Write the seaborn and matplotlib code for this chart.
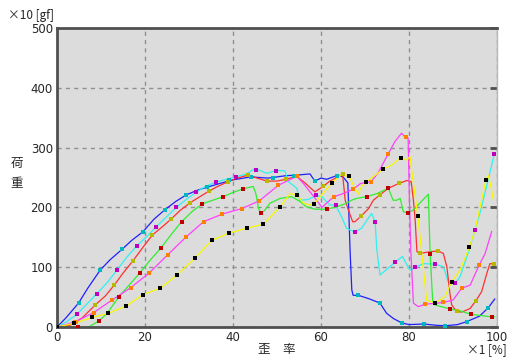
import matplotlib
matplotlib.use("Agg")
import matplotlib.pyplot as plt
import seaborn as sns

# ---- data (strain %, load x10 gf) ----
blue_x = [0, 2, 4.9, 7, 9.8, 12, 14.8, 17, 19.5, 22, 24.5, 27, 29.4, 32, 34.2, 37, 40, 44, 48, 52, 54.5,
          57.5, 58.6, 60, 61.3, 63.9, 65, 66.1, 66.6, 67, 67.3, 68.5, 71, 73.4, 74.9, 76.5, 78.3, 80, 83.3,
          86, 88.2, 91, 93.1, 96, 98, 99.5]
blue_y = [0, 15, 40, 65, 95, 112, 130, 145, 159, 180, 196, 210, 221, 229, 234, 240, 246, 251, 249, 253, 254,
          256, 244, 249, 247, 254, 251, 241, 129, 62, 53, 53, 47, 40, 23, 14, 7, 4, 5, 3, 2, 4, 9, 18, 32, 47]
blue_mx = [4.9, 9.8, 14.8, 19.5, 24.5, 29.4, 34.2, 39.2, 44.1, 49, 53.9, 58.6, 63.6, 68.5, 73.4, 78.3, 83.3,
           88.2, 93.1, 98]
blue_my = [40, 95, 130, 159, 196, 221, 234, 245, 251, 250, 253, 244, 253, 53, 40, 7, 5, 2, 9, 32]

cyan_x = [0, 2, 4.5, 7, 9.1, 11.5, 13.6, 16, 18.2, 20.5, 22.6, 25, 27.1, 29.5, 31.7, 34, 36.1, 38.5, 40.7,
          43, 45, 47.7, 49.9, 51.8, 52.6, 54.5, 55.2, 57, 58.9, 60.2, 62, 63.3, 64.7, 65.8, 67.7, 69.2, 71.5,
          72.3, 72.7, 73.4, 75.7, 77, 78.5, 80.2, 81.4, 83.3, 85.9, 87.8, 88.9, 90.5, 91.6, 93.9, 95, 96.1,
          98, 99.4]
cyan_y = [0, 8, 21, 40, 56, 75, 95, 118, 136, 152, 168, 185, 200, 214, 226, 236, 242, 247, 251, 256, 265,
          257, 262, 261, 243, 232, 212, 213, 220, 218, 204, 204, 184, 165, 159, 165, 190, 176, 129, 87, 101,
          109, 118, 95, 100, 106, 105, 101, 76, 73, 84, 134, 163, 190, 246, 290]
cyan_mx = [4.5, 9.1, 13.6, 18.2, 22.6, 27.1, 31.7, 36.1, 40.7, 45.2, 49.8, 58.9, 63.3, 67.7, 72.3, 76.8,
           81.4, 85.9, 90.5, 95, 99.4]
cyan_my = [21, 56, 95, 136, 168, 200, 226, 242, 251, 262, 261, 220, 204, 159, 176, 109, 100, 105, 73, 163, 290]

red_x = [0, 3, 5.7, 8.7, 11, 13, 15, 17.3, 19.5, 21.7, 24, 26, 28, 30.3, 32.5, 34.5, 36.5, 38.9, 41, 43.4,
         45.5, 47.7, 50, 52, 54.5, 56.5, 58.6, 60.5, 62, 63.9, 64.9, 65.5, 66.2, 67.2, 67.7, 69.2, 70.8, 71.9,
         73.4, 75.3, 77.7, 79.5, 80.5, 81, 81.4, 81.8, 82.5, 84.8, 86.7, 87.8, 88.6, 89.3, 89.7, 90.8, 92,
         93.9, 95.2, 96.5, 97.7, 98.4, 99.4]
red_y = [0, 3, 15, 37, 52, 70, 90, 111, 133, 154, 168, 181, 195, 208, 218, 227, 235, 243, 249, 254,
         249, 244, 244, 247, 252, 240, 226, 235, 244, 251, 256, 212, 196, 176, 176, 186, 198, 212,
         221, 232, 240, 245, 243, 212, 179, 126, 123, 126, 127, 123, 101, 56, 37, 26, 25,
         31, 44, 59, 90, 106, 105]
red_mx = [4.3, 8.7, 13, 17.3, 21.7, 26, 30.3, 34.6, 38.9, 43.3, 47.7, 52, 60.5, 64.9, 69.2, 73.4, 77.7,
          82.5, 86.7, 90.8, 95.2, 99.4]
red_my = [8, 37, 70, 111, 154, 181, 208, 227, 243, 254, 244, 247, 235, 256, 186, 221, 240, 123, 127, 26, 44, 105]

green_x = [0, 4.8, 7.2, 9.5, 11.4, 14.1, 16.5, 18.9, 21.2, 23.6, 26, 28.3, 30.7, 33, 35.4, 37.8, 40, 42.3,
           44.6, 45.2, 45.8, 46.4, 47.3, 48.4, 50.7, 53.3, 55.2, 56.7, 58.6, 61.3, 63.6, 65.8, 66.9, 68.1,
           70.4, 72.7, 75.3, 76.4, 77.2, 78, 78.7, 79.8, 81, 84.4, 84.8, 85.4, 85.9, 89.4, 91.6, 94.2,
           98.8, 99.5]
green_y = [0, 0, 0, 10, 23, 51, 71, 91, 112, 132, 155, 176, 193, 206, 212, 218, 225, 231, 235, 223, 198,
           190, 196, 207, 215, 218, 210, 201, 197, 197, 201, 207, 212, 215, 218, 223, 232, 212, 212, 215,
           193, 190, 196, 222, 122, 42, 37, 30, 27, 21, 17, 17]
green_mx = [4.8, 9.5, 14.2, 18.9, 23.6, 28.3, 33, 37.8, 42.3, 46.4, 61.3, 70.4, 75.3, 79.8, 84.8, 89.4,
            94.2, 98.8]
green_my = [0, 10, 51, 91, 132, 176, 206, 218, 231, 190, 197, 218, 232, 190, 122, 30, 21, 17]

mag_x = [0, 2, 4.2, 8.3, 12.5, 16.8, 20.9, 25.2, 29.4, 33.3, 37.6, 42, 46, 50.3, 54.5, 56, 57.5, 58.8,
         60.2, 62, 63, 65, 67.2, 69, 71.4, 73, 75.3, 76.8, 78.3, 79.3, 79.8, 80.1, 80.4, 81, 82.1, 83.6,
         87.8, 90, 92, 93.9, 95.9, 97.3, 98.8]
mag_y = [0, 4, 9, 24, 45, 66, 90, 121, 151, 176, 189, 198, 211, 237, 252, 240, 226, 214, 200, 212, 218,
         223, 230, 240, 243, 258, 290, 310, 324, 317, 316, 212, 129, 40, 34, 38, 41, 45, 65, 70, 103, 123, 160]
mag_mx = [4.2, 8.3, 12.5, 16.8, 20.9, 25.2, 29.4, 33.3, 37.6, 42, 46, 50.3, 54.5, 63, 67.2, 71.4, 75.3,
          79.3, 83.6, 87.8, 92, 95.9]
mag_my = [9, 24, 45, 66, 90, 121, 151, 176, 189, 198, 211, 237, 252, 218, 230, 243, 290, 317, 38, 41, 65, 103]

yel_x = [0, 3.8, 8, 11.7, 15.7, 19.5, 23.5, 27.3, 31.3, 35.2, 39.1, 43.1, 46.9, 50.7, 53, 54.6, 56, 57.5,
         58.5, 59.8, 62.5, 64.5, 66.4, 67.7, 68.5, 69.2, 70.2, 72.7, 74.2, 76.1, 78.1, 79.5, 80.2, 81, 82,
         82.9, 84, 85.9, 88.2, 89.7, 91.6, 93.7, 95, 97.5, 98, 98.6, 99.2]
yel_y = [0, 6, 16, 23, 35, 54, 65, 87, 115, 145, 157, 165, 172, 201, 223, 221, 207, 204, 206, 218, 241,
         254, 252, 232, 222, 235, 242, 256, 264, 271, 283, 279, 285, 240, 186, 123, 45, 40, 51, 76, 95,
         133, 162, 246, 254, 235, 212]
yel_mx = [0, 3.8, 8, 11.7, 15.7, 19.5, 23.5, 27.3, 31.3, 35.2, 39.1, 43.1, 46.9, 50.7, 54.6, 58.5, 62.5,
          66.4, 70.2, 74.2, 78.1, 82, 85.9, 89.7, 93.7, 97.5]
yel_my = [0, 6, 16, 23, 35, 54, 65, 87, 115, 145, 157, 165, 172, 201, 221, 206, 241, 252, 242, 264, 283,
          186, 40, 76, 133, 246]

x_ticks = [0, 20, 40, 60, 80, 100]
y_ticks = [0, 100, 200, 300, 400, 500]

series = [
    (blue_x, blue_y, blue_mx, blue_my, "#2020ff", "#00b8c0"),
    (cyan_x, cyan_y, cyan_mx, cyan_my, "#30f0f0", "#c000c0"),
    (red_x, red_y, red_mx, red_my, "#ff3030", "#b8b800"),
    (green_x, green_y, green_mx, green_my, "#30ee30", "#c00000"),
    (mag_x, mag_y, mag_mx, mag_my, "#ff40ff", "#ff8000"),
    (yel_x, yel_y, yel_mx, yel_my, "#f8f800", "#000000"),
]

sns.set_style("white")
plt.rcParams["font.family"] = ["DejaVu Sans"]
jp = ["Noto Sans CJK JP", "DejaVu Sans"]

fig = plt.figure(figsize=(5.1, 3.58), dpi=100)
ax = fig.add_axes([57 / 510, 31 / 358, 440 / 510, 299 / 358])
ax.set_facecolor("#dcdcdc")

for lx, ly, mx, my, lc, mc in series:
    sns.lineplot(x=lx, y=ly, ax=ax, color=lc, linewidth=0.9, sort=False, estimator=None)
    sns.scatterplot(x=mx, y=my, ax=ax, color=mc, marker="s", s=9, linewidth=0, zorder=3)

ax.set_xlim(0, 100)
ax.set_ylim(0, 500)
ax.set_xticks(x_ticks)
ax.set_yticks(y_ticks)
ax.grid(True, color="#909090", linestyle=(0, (3, 3)), linewidth=1)
ax.tick_params(axis="both", direction="in", length=5, width=2, color="#505050",
               labelsize=8.5, pad=3)
ax.tick_params(axis="y", right=True)
for side in ["left", "bottom", "top"]:
    ax.spines[side].set_color("#505050")
    ax.spines[side].set_linewidth(2)
ax.spines["right"].set_color("#b8b8b8")
ax.spines["right"].set_linewidth(1)

fig.text(8 / 510, 1 - 15 / 358, "×10 [gf]", fontsize=8.5, va="center", ha="left", family=jp)
fig.text(17 / 510, 1 - 163 / 358, "荷", fontsize=9, va="center", ha="center", family=jp)
fig.text(17 / 510, 1 - 183 / 358, "重", fontsize=9, va="center", ha="center", family=jp)
fig.text(277 / 510, 1 - 350 / 358, "歪　率", fontsize=9, va="center", ha="center", family=jp)
fig.text(507 / 510, 1 - 350 / 358, "×1 [%]", fontsize=8.5, va="center", ha="right", family=jp)

fig.savefig("out.png", dpi=100)
